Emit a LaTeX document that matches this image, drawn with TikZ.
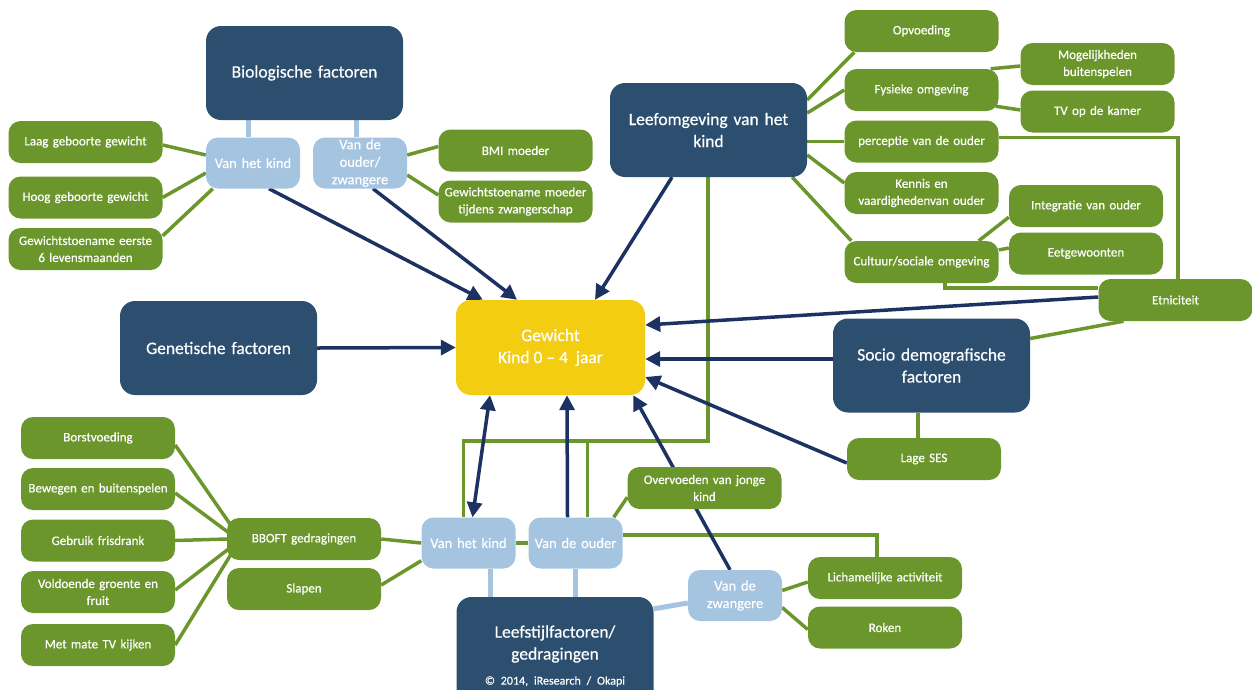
\documentclass[tikz,border=0pt]{standalone}
\usepackage{fontspec}
\setmainfont{Carlito}[FakeBold=0.4]
\usetikzlibrary{arrows.meta,backgrounds}

\definecolor{boxblue}{HTML}{2C4F6F}
\definecolor{leafgreen}{HTML}{6B962C}
\definecolor{paleblue}{HTML}{A5C4E0}
\definecolor{arrowblue}{HTML}{1C3262}
\definecolor{gewyellow}{HTML}{F3CD12}

\begin{document}
\begin{tikzpicture}
  [x=1pt,y=-1pt,
   darkN/.style={rounded corners=15pt,fill=boxblue,text=white,align=center,
     font=\fontsize{17.5}{22}\selectfont,inner sep=0pt,text width=190pt,
     minimum width=197pt,minimum height=94pt},
   greenN/.style={rounded corners=12pt,fill=leafgreen,text=white,align=center,
     font=\fontsize{13}{17}\selectfont,inner sep=0pt,text width=152pt,
     minimum width=154pt,minimum height=42pt},
   lightN/.style={rounded corners=12pt,fill=paleblue,text=white,align=center,
     font=\fontsize{14.5}{17.5}\selectfont,inner sep=0pt,text width=92pt,
     minimum width=94pt,minimum height=51pt},
   centerN/.style={rounded corners=15pt,fill=gewyellow,text=white,align=center,
     font=\fontsize{17.5}{22}\selectfont,inner sep=0pt,
     minimum width=189pt,minimum height=95pt},
   greenL/.style={draw=leafgreen,line width=3.5pt},
   paleL/.style={draw=paleblue,line width=5pt},
   arrowL/.style={draw=arrowblue,line width=3.5pt,-{Triangle[length=15pt,width=15pt]}},
   arrowLL/.style={draw=arrowblue,line width=3.5pt,{Triangle[length=15pt,width=15pt]}-{Triangle[length=15pt,width=15pt]}}]

  \clip (0,0) rectangle (1252,689);
  \useasboundingbox (0,0) rectangle (1252,689);

  \node[centerN] (gew) at (550.5,347.5) {Gewicht\\Kind 0 -- 4\ \ jaar};

  \node[darkN] (bio)  at (304.5,73)  {Biologische factoren};
  \node[lightN] (kindB)  at (253,163) {Van het kind};
  \node[lightN] (ouderB) at (360,163) {Van de\\ouder/\\zwangere};
  \node[greenN] (laag) at (85.5,142)  {Laag geboorte gewicht};
  \node[greenN] (hoog) at (85.5,197.5) {Hoog geboorte gewicht};
  \node[greenN] (gew6) at (85.5,249)  {Gewichtstoename eerste\\6 levensmaanden};
  \node[greenN] (bmi)  at (515.5,150.5) {BMI moeder};
  \node[greenN] (gewm) at (515.5,201.5) {Gewichtstoename moeder\\tijdens zwangerschap};

  \node[darkN] (leef) at (708.5,130) {Leefomgeving van het\\kind};
  \node[greenN] (opv)   at (921.5,31)   {Opvoeding};
  \node[greenN] (fys)   at (921.5,90)   {Fysieke omgeving};
  \node[greenN] (mog)   at (1097.5,64)  {Mogelijkheden\\buitenspelen};
  \node[greenN] (tv)    at (1097.5,111.5) {TV op de kamer};
  \node[greenN] (perc)  at (921.5,141.5) {perceptie van de ouder};
  \node[greenN] (ken)   at (921.5,193)  {Kennis en\\vaardighedenvan ouder};
  \node[greenN] (integ) at (1086,206)   {Integratie van ouder};
  \node[greenN] (eet)   at (1086,253.5) {Eetgewoonten};
  \node[greenN] (cult)  at (921.5,262)  {Cultuur/sociale omgeving};
  \node[greenN] (etn)   at (1175.5,300) {Etniciteit};

  \node[darkN] (socio) at (931.5,365.5) {Socio demografische\\factoren};
  \node[greenN] (ses)  at (924,459)     {Lage SES};

  \node[darkN] (gen) at (218.5,348) {Genetische factoren};

  \node[greenN] (borst) at (98,438)   {Borstvoeding};
  \node[greenN] (bew)   at (98,489)   {Bewegen en buitenspelen};
  \node[greenN] (fris)  at (98,540.5) {Gebruik frisdrank};
  \node[greenN] (vold)  at (98,592)   {Voldoende groente en\\fruit};
  \node[greenN] (tvk)   at (98,645)   {Met mate TV kijken};
  \node[greenN] (bboft) at (304,539)  {BBOFT gedragingen};
  \node[greenN] (slap)  at (304,589)  {Slapen};

  \node[lightN] (kindL)  at (468.5,543) {Van het kind};
  \node[lightN] (ouderL) at (575.5,543) {Van de ouder};
  \node[lightN] (zw)     at (735,595.5) {Van de\\zwangere};
  \node[greenN] (over) at (704.5,488) {Overvoeden van jonge\\kind};
  \node[greenN] (lich) at (885,578)   {Lichamelijke activiteit};
  \node[greenN] (rok)  at (885,627.5) {Roken};

  \node[darkN,minimum height=118pt] (leefs) at (555,656)
    {Leefstijlfactoren/\\gedragingen\\[3pt]{\fontsize{12}{14}\selectfont \textcopyright\ 2014, iResearch / Okapi}};

  \coordinate (jn) at (708,441);

  \begin{pgfonlayer}{background}
  \draw[paleL] ([xshift=-5]kindB.north) -- ([xshift=-5]kindB.north |- bio.south);
  \draw[paleL] ([xshift=-4]ouderB.north) -- ([xshift=-4]ouderB.north |- bio.south);
  \draw[paleL] ([xshift=21.5]kindL.south) -- ([xshift=21.5]kindL.south |- leefs.north);
  \draw[paleL] (ouderL.south) -- (ouderL.south |- leefs.north);
  \draw[paleL] ([yshift=-12]leefs.north east) -- ([yshift=-7.5]zw.west);

  \draw[greenL] ([yshift=-3]laag.east) -- ([yshift=8]kindB.west);
  \draw[greenL] (hoog.east) -- ([yshift=-10]kindB.west);
  \draw[greenL] ([yshift=-8]gew6.north east) -- ([xshift=7]kindB.south west);
  \draw[greenL] ([yshift=8]ouderB.east) -- ([yshift=4]bmi.west);
  \draw[greenL] ([yshift=-12]ouderB.east) -- ([yshift=6.5]gewm.west);

  \draw[greenL] ([yshift=30]leef.east) -- ([xshift=10]opv.south west);
  \draw[greenL] ([yshift=17]leef.east) -- (fys.west);
  \draw[greenL] (perc.west -| leef.east) -- (perc.west);
  \draw[greenL] ([yshift=-25]leef.east) -- ([yshift=10]ken.west);
  \draw[greenL] ([xshift=-15]leef.south east) -- ([xshift=7]cult.north west);
  \draw[greenL] ([xshift=-8]fys.north east) -- ([yshift=-2]mog.west);
  \draw[greenL] ([xshift=-3,yshift=5]fys.south east) -- ([yshift=1.5]tv.west);
  \draw[greenL] ([xshift=-20]cult.north east) -- ([yshift=10]integ.south west);
  \draw[greenL] ([yshift=12]cult.east) -- ([yshift=5.5]eet.west);
  \draw[greenL] ([yshift=4]perc.east) -| ([xshift=2.5]etn.north);
  \draw[greenL] ([xshift=23.5]cult.south) |- ([yshift=12]etn.west);
  \draw[greenL] ([yshift=27]socio.east) -- ([xshift=-52]etn.south);
  \draw[greenL] ([xshift=-6]ses.north) -- ([xshift=-6]ses.north |- socio.south);

  \draw[greenL] (leef.south -| jn) -- (jn) -| ([xshift=-5]kindL.north);
  \draw[greenL] ([xshift=12]ouderL.north) |- (jn);

  \draw[greenL] ([yshift=-7]borst.east) -- ([xshift=6,yshift=11]bboft.west);
  \draw[greenL] ([yshift=-4]bew.east) -- ([xshift=1,yshift=7]bboft.west);
  \draw[greenL] (fris.east) -- (bboft.west);
  \draw[greenL] ([yshift=2]vold.east) -- ([xshift=3,yshift=-9]bboft.west);
  \draw[greenL] (tvk.east) -- ([xshift=5,yshift=-14]bboft.west);
  \draw[greenL] (bboft.east) -- (kindL.west);
  \draw[greenL] ([yshift=4]slap.east) -- ([yshift=8]kindL.south west);
  \draw[greenL] (kindL.east) -- (ouderL.west);
  \draw[greenL] ([xshift=-9]ouderL.north east) -- ([yshift=12]over.south west);
  \draw[greenL] ([yshift=8]ouderL.east) -| ([xshift=-8]lich.north);
  \draw[greenL] ([yshift=5]zw.east) -- ([yshift=-4]lich.west);
  \draw[greenL] ([yshift=-12]zw.east) -- ([yshift=-2]rok.west);

  \draw[arrowL] ([xshift=16]kindB.south) -- ([xshift=27]gew.north west);
  \draw[arrowL] ([xshift=13]ouderB.south) -- ([xshift=-33.5]gew.north);
  \draw[arrowL] ([xshift=-36.5]leef.south) -- ([xshift=44.5]gew.north);
  \draw[arrowL] (gen.east) -- (gew.west);
  \draw[arrowL] ([yshift=3]etn.west) -- ([yshift=22.5]gew.east);
  \draw[arrowL] ([yshift=6.5]socio.west) -- ([yshift=-11.5]gew.east);
  \draw[arrowL] ([yshift=-4]ses.west) -- ([yshift=-29.5]gew.east);
  \draw[arrowLL] ([xshift=4]kindL.north) -- ([xshift=-60.5]gew.south);
  \draw[arrowL] ([xshift=-8]ouderL.north) -- ([xshift=16.5]gew.south);
  \draw[arrowL] ([xshift=-5]zw.north) -- ([xshift=-12]gew.south east);
  \end{pgfonlayer}

\end{tikzpicture}
\end{document}
